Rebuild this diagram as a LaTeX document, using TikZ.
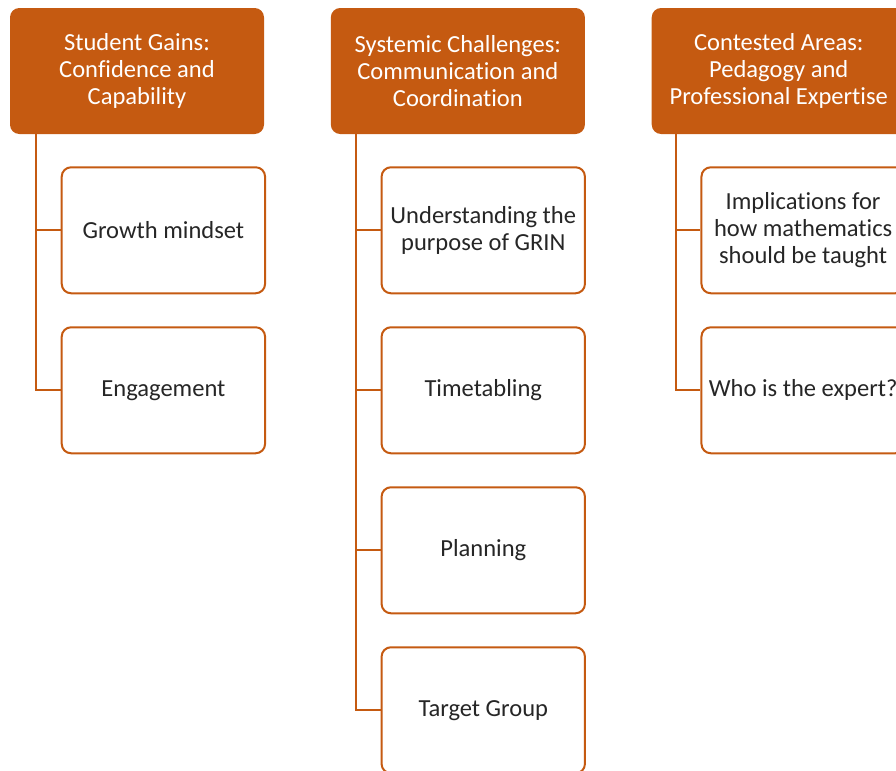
\documentclass[tikz,border=0pt]{standalone}
\usepackage{fontspec}
\setmainfont{Carlito}[Ligatures=NoCommon]
\usetikzlibrary{positioning}
\usepackage{xcolor}
\definecolor{rust}{HTML}{C55A11}

\begin{document}
\begin{tikzpicture}[
    x=0.75pt, y=-0.75pt,
    node distance=24pt and 49.75pt,
    headbox/.style={rectangle, minimum height=94.5pt, minimum width=190.5pt, fill=rust, text=white, align=center, font=\fontsize{18.4pt}{20.4pt}\selectfont, rounded corners=7pt, inner sep=0pt},
    itembox/.style={draw=rust, line width=1.5pt, rectangle, minimum height=94.5pt, minimum width=152.5pt, fill=white, text=black!85, align=center, font=\fontsize{18.4pt}{20.4pt}\selectfont, rounded corners=7pt, inner sep=0pt},
    link/.style={draw=rust, line width=1.5pt}
]
  \useasboundingbox (0,0) rectangle (896,771);
  \clip (0,0) rectangle (896,771);

  % Headers
  \node (gains) [headbox] at (137,71) {Student Gains:\\Confidence and\\Capability};
  \node (systemic) [headbox, right=of gains] {Systemic Challenges:\\Communication and\\Coordination};
  \node (contested) [headbox, right=of systemic] {Contested Areas:\\Pedagogy and\\Professional Expertise};

  % Column 1
  \node (mindset) [itembox, below=24pt of gains.south west, anchor=north west, xshift=38.25pt] {Growth mindset};
  \node (engage) [itembox, below=of mindset] {Engagement};

  % Column 2
  \node (purpose) [itembox, below=24pt of systemic.south west, anchor=north west, xshift=37.5pt] {Understanding the\\purpose of GRIN};
  \node (timetable) [itembox, below=of purpose] {Timetabling};
  \node (planning) [itembox, below=of timetable] {Planning};
  \node (target) [itembox, below=of planning] {Target Group};

  % Column 3
  \node (implic) [itembox, below=24pt of contested.south west, anchor=north west, xshift=36.75pt] {Implications for\\how mathematics\\should be taught};
  \node (expert) [itembox, below=of implic] {Who is the expert?};

  % Connectors
  \draw [link] ([xshift=19.5pt]gains.south west) |- (mindset.west);
  \draw [link] ([xshift=19.5pt]gains.south west) |- (engage.west);
  \draw [link] ([xshift=18.75pt]systemic.south west) |- (purpose.west);
  \draw [link] ([xshift=18.75pt]systemic.south west) |- (timetable.west);
  \draw [link] ([xshift=18.75pt]systemic.south west) |- (planning.west);
  \draw [link] ([xshift=18.75pt]systemic.south west) |- (target.west);
  \draw [link] ([xshift=18.75pt]contested.south west) |- (implic.west);
  \draw [link] ([xshift=18.75pt]contested.south west) |- (expert.west);
\end{tikzpicture}
\end{document}
